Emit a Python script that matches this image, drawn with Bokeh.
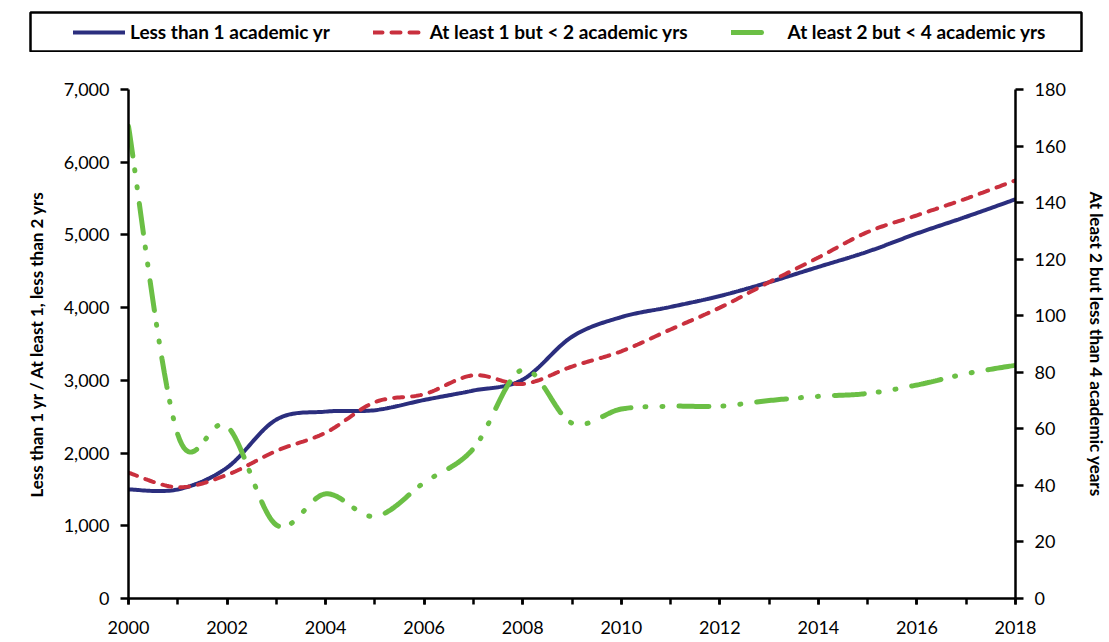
import numpy as np
from bokeh.plotting import figure
from bokeh.models import (Range1d, LinearAxis, FixedTicker, NumeralTickFormatter,
                          Legend, LegendItem)
from bokeh.embed import file_html
from bokeh.resources import INLINE

# ---- data ----
years = [2000, 2001, 2002, 2003, 2004, 2005, 2006, 2007, 2008, 2009,
         2010, 2011, 2012, 2013, 2014, 2015, 2016, 2017, 2018]
less_than_1 = [1500, 1500, 1800, 2460, 2570, 2590, 2730, 2860, 3010, 3600,
               3870, 4010, 4160, 4350, 4560, 4770, 5020, 5250, 5490]
one_to_two = [1730, 1530, 1700, 2030, 2280, 2700, 2810, 3070, 2950, 3190,
              3400, 3700, 4000, 4350, 4690, 5040, 5270, 5500, 5750]
two_to_four = [167, 58, 61, 26, 37, 29, 41, 53, 81, 62,
               67, 68, 68, 70, 71.5, 72.5, 75.5, 79.5, 82.5]

labels = ["Less than 1 academic yr", "At least 1 but < 2 academic yrs",
          "At least 2 but < 4 academic yrs"]
colors = ["#2B2E7E", "#C9303E", "#6BBF45"]
left_ticks = [0, 1000, 2000, 3000, 4000, 5000, 6000, 7000]
right_ticks = [0, 20, 40, 60, 80, 100, 120, 140, 160, 180]
x_major = [2000, 2002, 2004, 2006, 2008, 2010, 2012, 2014, 2016, 2018]
left_title = "Less than 1 yr / At least 1, less than 2 yrs"
right_title = "At least 2 but less than 4 academic years"

FONT = "Lato"
W, H = 1109, 642
LEG_H = 52


def smooth(xs, ys, steps=24):
    """Excel-style smoothed line through the data points (cubic Bezier)."""
    pts = np.column_stack([np.asarray(xs, float), np.asarray(ys, float)])
    n = len(pts)
    out = []
    for i in range(n - 1):
        p0, p3 = pts[i], pts[i + 1]
        pm = pts[i - 1] if i > 0 else pts[i]
        pn = pts[i + 2] if i + 2 < n else pts[i + 1]
        c1 = p0 + (p3 - pm) / 6.0
        c2 = p3 - (pn - p0) / 6.0
        t = np.linspace(0, 1, steps, endpoint=(i == n - 2))[:, None]
        seg = ((1 - t) ** 3) * p0 + 3 * ((1 - t) ** 2) * t * c1 + 3 * (1 - t) * t * t * c2 + t ** 3 * p3
        out.append(seg)
    arr = np.vstack(out)
    return arr[:, 0], arr[:, 1]


styles = [
    dict(line_width=4, line_dash="solid"),
    dict(line_width=4, line_dash="9 9", line_cap="round"),
    dict(line_width=5, line_dash="30 14 1 16 1 16", line_cap="round"),
]
legend_styles = [
    dict(line_width=4, line_dash="solid", line_cap="round"),
    dict(line_width=4, line_dash="9 9", line_cap="round"),
    dict(line_width=5, line_dash="30 60", line_cap="round"),
]

# ---- chart ----
p = figure(width=W, height=H - LEG_H, output_backend="svg", toolbar_location=None,
           x_range=Range1d(2000, 2018), y_range=Range1d(0, 7000),
           min_border_left=128, min_border_right=W - 1021,
           min_border_top=89 - LEG_H, min_border_bottom=H - 598)
p.extra_y_ranges = {"right": Range1d(0, 180)}
p.outline_line_color = None
p.xgrid.visible = False
p.ygrid.visible = False

sx, sy = smooth(years, less_than_1)
p.line(sx, sy, line_color=colors[0], **styles[0])
sx, sy = smooth(years, one_to_two)
p.line(sx, sy, line_color=colors[1], **styles[1])
sx, sy = smooth(years, two_to_four)
p.line(sx, sy, line_color=colors[2], y_range_name="right", **styles[2])

xa = p.xaxis[0]
xa.ticker = FixedTicker(ticks=x_major, minor_ticks=years)
ya = p.yaxis[0]
ya.ticker = FixedTicker(ticks=left_ticks)
ya.formatter = NumeralTickFormatter(format="0,0")
ya.axis_label = left_title

ra = LinearAxis(y_range_name="right", ticker=FixedTicker(ticks=right_ticks),
                axis_label=right_title)
p.add_layout(ra, "right")

for ax in (xa, ya, ra):
    ax.axis_line_color = "black"
    ax.axis_line_width = 2.5
    ax.major_tick_line_color = "black"
    ax.major_tick_line_width = 2.5
    ax.minor_tick_line_color = "black"
    ax.minor_tick_line_width = 2.5
    ax.major_tick_in = 0
    ax.major_tick_out = 8
    ax.minor_tick_in = 0
    ax.minor_tick_out = 0
    ax.major_label_text_font = FONT
    ax.major_label_text_font_size = "18px"
    ax.major_label_text_color = "black"
    ax.major_label_standoff = 11
    ax.axis_label_text_font = FONT
    ax.axis_label_text_font_style = "bold"
    ax.axis_label_text_font_size = "17px"
    ax.axis_label_text_color = "black"
    ax.axis_label_standoff = 14
xa.minor_tick_out = 6
xa.major_tick_out = 6
xa.major_label_standoff = 16
ra.axis_label_standoff = 17

# ---- legend strip (its frame outline is the legend box) ----
lg = figure(width=W, height=LEG_H, output_backend="svg", toolbar_location=None,
            x_range=Range1d(0, 1), y_range=Range1d(0, 1),
            x_axis_location=None, y_axis_location=None,
            min_border_left=30, min_border_right=W - 1081,
            min_border_top=12, min_border_bottom=LEG_H - 51)
lg.xgrid.visible = False
lg.ygrid.visible = False
lg.outline_line_color = "black"
lg.outline_line_width = 2.5
items = []
for lab, col, st in zip(labels, colors, legend_styles):
    # legend samples only: kept outside the visible range
    r = lg.line(x=[-5, -4], y=[-5, -5], line_color=col, **st)
    items.append(LegendItem(label=lab, renderers=[r]))
legend = Legend(items=items, orientation="horizontal", location=(43, 8),
                glyph_width=52, glyph_height=20, label_standoff=5, spacing=43,
                padding=0, margin=0, border_line_color=None, background_fill_alpha=0,
                label_text_font=FONT, label_text_font_style="bold",
                label_text_font_size="19px", label_text_color="black")
lg.add_layout(legend, "center")

open("out.html", "w").write(file_html([lg, p], INLINE))
